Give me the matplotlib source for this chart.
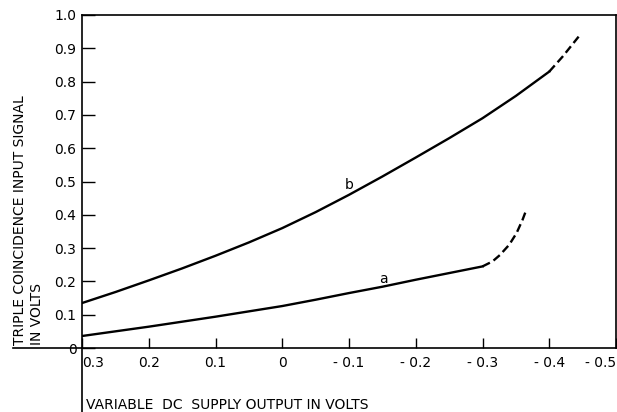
import matplotlib
matplotlib.use("Agg")
import matplotlib.pyplot as plt
from matplotlib.lines import Line2D

# curve b (solid part, then dashed extension)
b_x = [0.3, 0.25, 0.2, 0.15, 0.1, 0.05, 0.0, -0.05, -0.1, -0.15, -0.2, -0.25, -0.3, -0.35, -0.4]
b_y = [0.135, 0.168, 0.203, 0.239, 0.277, 0.317, 0.360, 0.408, 0.460, 0.515, 0.572, 0.630, 0.690, 0.757, 0.830]
b_dash_x = [-0.4, -0.42, -0.444]
b_dash_y = [0.830, 0.875, 0.935]

# curve a
a_x = [0.3, 0.25, 0.2, 0.15, 0.1, 0.05, 0.0, -0.05, -0.1, -0.15, -0.2, -0.25, -0.3]
a_y = [0.036, 0.050, 0.064, 0.079, 0.094, 0.110, 0.126, 0.145, 0.165, 0.184, 0.205, 0.225, 0.245]
a_dash_x = [-0.3, -0.315, -0.326, -0.34, -0.351, -0.36, -0.366]
a_dash_y = [0.245, 0.260, 0.279, 0.310, 0.345, 0.385, 0.417]

x_ticks = [0.3, 0.2, 0.1, 0.0, -0.1, -0.2, -0.3, -0.4, -0.5]
x_labels = ['0.3', '0.2', '0.1', '0', '- 0.1', '- 0.2', '- 0.3', '- 0.4', '- 0.5']
y_ticks = [0, 0.1, 0.2, 0.3, 0.4, 0.5, 0.6, 0.7, 0.8, 0.9, 1.0]
y_labels = ['0', '0.1', '0.2', '0.3', '0.4', '0.5', '0.6', '0.7', '0.8', '0.9', '1.0']

fig = plt.figure(figsize=(6.17, 4.12), dpi=100)
W, H = 617, 412
ax = fig.add_axes([82 / W, 1 - 348 / H, (616 - 82) / W, (348 - 15) / H])

ax.plot(b_x, b_y, color='black', lw=1.7)
ax.plot(b_dash_x, b_dash_y, color='black', lw=1.7, ls=(0, (3.5, 1.8)))
ax.plot(a_x, a_y, color='black', lw=1.7)
ax.plot(a_dash_x, a_dash_y, color='black', lw=1.7, ls=(0, (3.5, 1.8)))

ax.text(-0.1, 0.49, 'b', fontsize=10, ha='center', va='center')
ax.text(-0.152, 0.207, 'a', fontsize=10, ha='center', va='center')

ax.set_xlim(0.3, -0.5)
ax.set_ylim(0, 1.0)
ax.set_xticks(x_ticks)
ax.set_xticklabels(x_labels)
ax.set_yticks(y_ticks)
ax.set_yticklabels(y_labels)
ax.tick_params(axis='x', direction='in', length=7, width=1, labelsize=10, pad=6)
ax.tick_params(axis='y', direction='in', length=9, width=1, labelsize=10, pad=4)
xt = ax.get_xticklabels()
xt[0].set_horizontalalignment('left')
xt[-1].set_horizontalalignment('right')
for s in ax.spines.values():
    s.set_linewidth(1.2)

# axis lines running past the box
fig.add_artist(Line2D([13 / W, 82 / W], [1 - 348 / H] * 2, color='black', lw=1.2))
fig.add_artist(Line2D([82 / W] * 2, [0, 1 - 348 / H], color='black', lw=1.2))

fig.text(20 / W, 1 - 345 / H, 'TRIPLE COINCIDENCE INPUT SIGNAL', rotation=90,
         rotation_mode='anchor', ha='left', va='center', fontsize=10)
fig.text(37 / W, 1 - 345 / H, 'IN VOLTS', rotation=90,
         rotation_mode='anchor', ha='left', va='center', fontsize=10)
fig.text(86 / W, 1 - 405 / H, 'VARIABLE  DC  SUPPLY OUTPUT IN VOLTS',
         ha='left', va='center', fontsize=10)

fig.savefig('out.png', dpi=100)
